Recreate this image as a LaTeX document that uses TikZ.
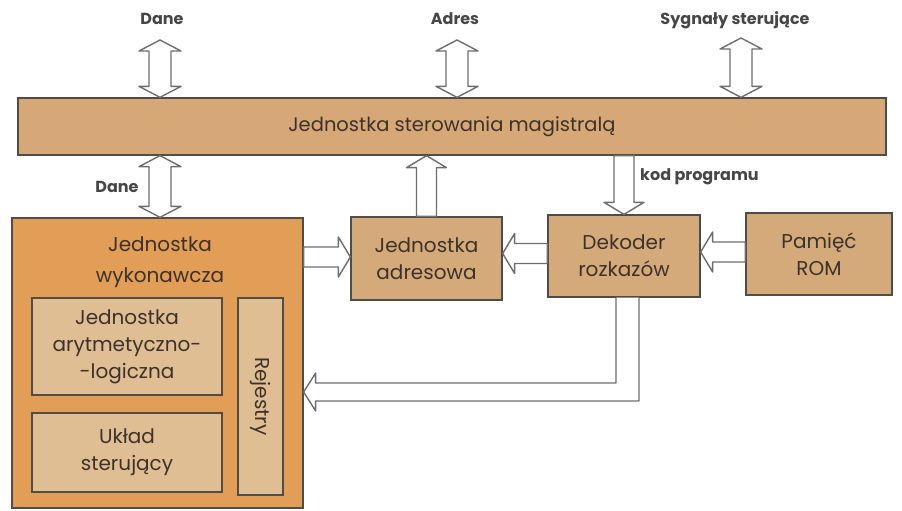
\documentclass[tikz,border=0pt]{standalone}
\usepackage{fontspec}
\setmainfont{Poppins}
\usetikzlibrary{calc}
\definecolor{busfill}{RGB}{214,168,120}
\definecolor{boxfill}{RGB}{212,170,122}
\definecolor{wykfill}{RGB}{226,158,86}
\definecolor{innerfill}{RGB}{224,190,148}
\definecolor{boxline}{RGB}{80,76,72}
\definecolor{arrline}{RGB}{110,110,110}
\definecolor{txt}{RGB}{60,50,42}
\definecolor{lbltxt}{RGB}{70,70,70}
\tikzset{
  box/.style={draw=boxline, line width=1.3pt, fill=boxfill, text=txt, align=center, inner sep=0pt,
    font=\fontsize{20}{27}\selectfont},
  blk/.style={draw=arrline, line width=1.4pt, fill=white, line join=round},
  lbl/.style={text=lbltxt, font=\fontsize{16}{18}\selectfont\bfseries, inner sep=1pt},
  boxtext/.style={text=txt, align=center, inner sep=0pt, font=\fontsize{20}{31}\selectfont}
}
\newcommand\VDArrow[2]{% vertical double arrow, top tip #1, bottom tip #2
  \draw[blk] (#1) -- ++(21,11) -- ++(-10,0) -- ($(#2)+(11,-11)$) -- ++(10,0) -- (#2)
    -- ++(-21,-11) -- ++(10,0) -- ($(#1)+(-11,11)$) -- ++(-10,0) -- cycle;}
\newcommand\UpArrow[2]{% tip #1 at top, tail #2 below
  \draw[blk] (#1) -- ++(20,12) -- ++(-10,0) -- ($(#2)+(10,0)$) -- ($(#2)+(-10,0)$)
    -- ($(#1)+(-10,12)$) -- ++(-10,0) -- cycle;}
\newcommand\DownArrow[2]{% tail #1 above, tip #2 below
  \draw[blk] (#2) -- ++(20,-12) -- ++(-10,0) -- ($(#1)+(10,0)$) -- ($(#1)+(-10,0)$)
    -- ($(#2)+(-10,-12)$) -- ++(-10,0) -- cycle;}
\newcommand\LeftArrow[2]{% tip #1 at left, tail #2 at right
  \draw[blk] (#1) -- ++(12,-20) -- ++(0,10) -- ($(#2)+(0,-10)$) -- ($(#2)+(0,10)$)
    -- ($(#1)+(12,10)$) -- ++(0,10) -- cycle;}
\newcommand\RightArrow[2]{% tail #1 at left, tip #2 at right
  \draw[blk] (#2) -- ++(-12,-20) -- ++(0,10) -- ($(#1)+(0,-10)$) -- ($(#1)+(0,10)$)
    -- ($(#2)+(-12,10)$) -- ++(0,10) -- cycle;}
\begin{document}
\begin{tikzpicture}[x=1pt,y=-1pt]
\useasboundingbox[fill=white] (0,0) rectangle (902,511);

% boxes
\node[box, fill=busfill, minimum width=868pt, minimum height=57pt, font=\fontsize{19.5}{24}\selectfont]
  (bus) at (452,126.5) {Jednostka sterowania magistralą};
\node[box, fill=wykfill, minimum width=291pt, minimum height=290pt] (wyk) at (157.5,363) {};
\node[boxtext] (wyktitle) at (160,262) {Jednostka\\wykonawcza};
\node[box, fill=innerfill, minimum width=190pt, minimum height=97pt] (alu) at (127,346.5)
  {Jednostka\\arytmetyczno-\\-logiczna};
\node[box, fill=innerfill, minimum width=190pt, minimum height=79pt] (ukl) at (127,452.5)
  {Układ\\sterujący};
\node[box, fill=innerfill, minimum width=45pt, minimum height=197pt] (rej) at (260.5,396.5) {};
\node[boxtext, rotate=-90] (rejtext) at (rej.center) {Rejestry};
\node[box, minimum width=151pt, minimum height=83pt] (adr) at (426.5,258.5) {Jednostka\\adresowa};
\node[box, minimum width=152pt, minimum height=82pt] (dek) at (624,256) {Dekoder\\rozkazów};
\node[box, minimum width=146pt, minimum height=82pt] (rom) at (819,254) {Pamięć\\ROM};

% top bus arrows
\coordinate (d1t) at (160,40);
\coordinate (a1t) at (457,40);
\coordinate (s1t) at (741,38);
\coordinate (d1b) at (bus.north -| d1t);
\coordinate (a1b) at (bus.north -| a1t);
\coordinate (s1b) at (bus.north -| s1t);
\VDArrow{d1t}{d1b}
\VDArrow{a1t}{a1b}
\VDArrow{s1t}{s1b}
\node[lbl] (ldane) at (162,19) {Dane};
\node[lbl] (ladres) at (455,19) {Adres};
\node[lbl] (lsyg) at (735,20) {Sygnały sterujące};

% bus <-> wykonawcza
\coordinate (d2t) at (bus.south -| d1t);
\coordinate (d2b) at (wyk.north -| d1t);
\VDArrow{d2t}{d2b}
\node[lbl] (ldane2) at (117,187) {Dane};

% adresowa -> bus
\coordinate (a2t) at (bus.south -| adr.north);
\UpArrow{a2t}{adr.north}

% bus -> dekoder
\coordinate (k2t) at (bus.south -| dek.north);
\DownArrow{k2t}{dek.north}
\node[lbl, anchor=west] (lkod) at (639,177) {kod programu};

% horizontal arrows
\coordinate (h1r) at ($(adr.west)+(0,-1.5)$);
\coordinate (h1l) at (wyk.east |- h1r);
\RightArrow{h1l}{h1r}
\coordinate (h2l) at ($(adr.east)+(0,-5)$);
\coordinate (h2r) at (dek.west |- h2l);
\LeftArrow{h2l}{h2r}
\coordinate (h3l) at ($(dek.east)+(0,-4)$);
\coordinate (h3r) at (rom.west |- h3l);
\LeftArrow{h3l}{h3r}

% dekoder -> wykonawcza (bent)
\coordinate (bt) at ($(wyk.east)+(0,29)$);
\draw[blk] ($(dek.south)+(-8,0)$) -- ($(dek.south |- bt)+(-8,-9)$) -- ($(bt)+(12,-9)$)
  -- ($(bt)+(12,-19)$) -- (bt) -- ($(bt)+(12,19)$) -- ($(bt)+(12,9)$)
  -- ($(dek.south |- bt)+(15,9)$) -- ($(dek.south)+(15,0)$);
\end{tikzpicture}
\end{document}
